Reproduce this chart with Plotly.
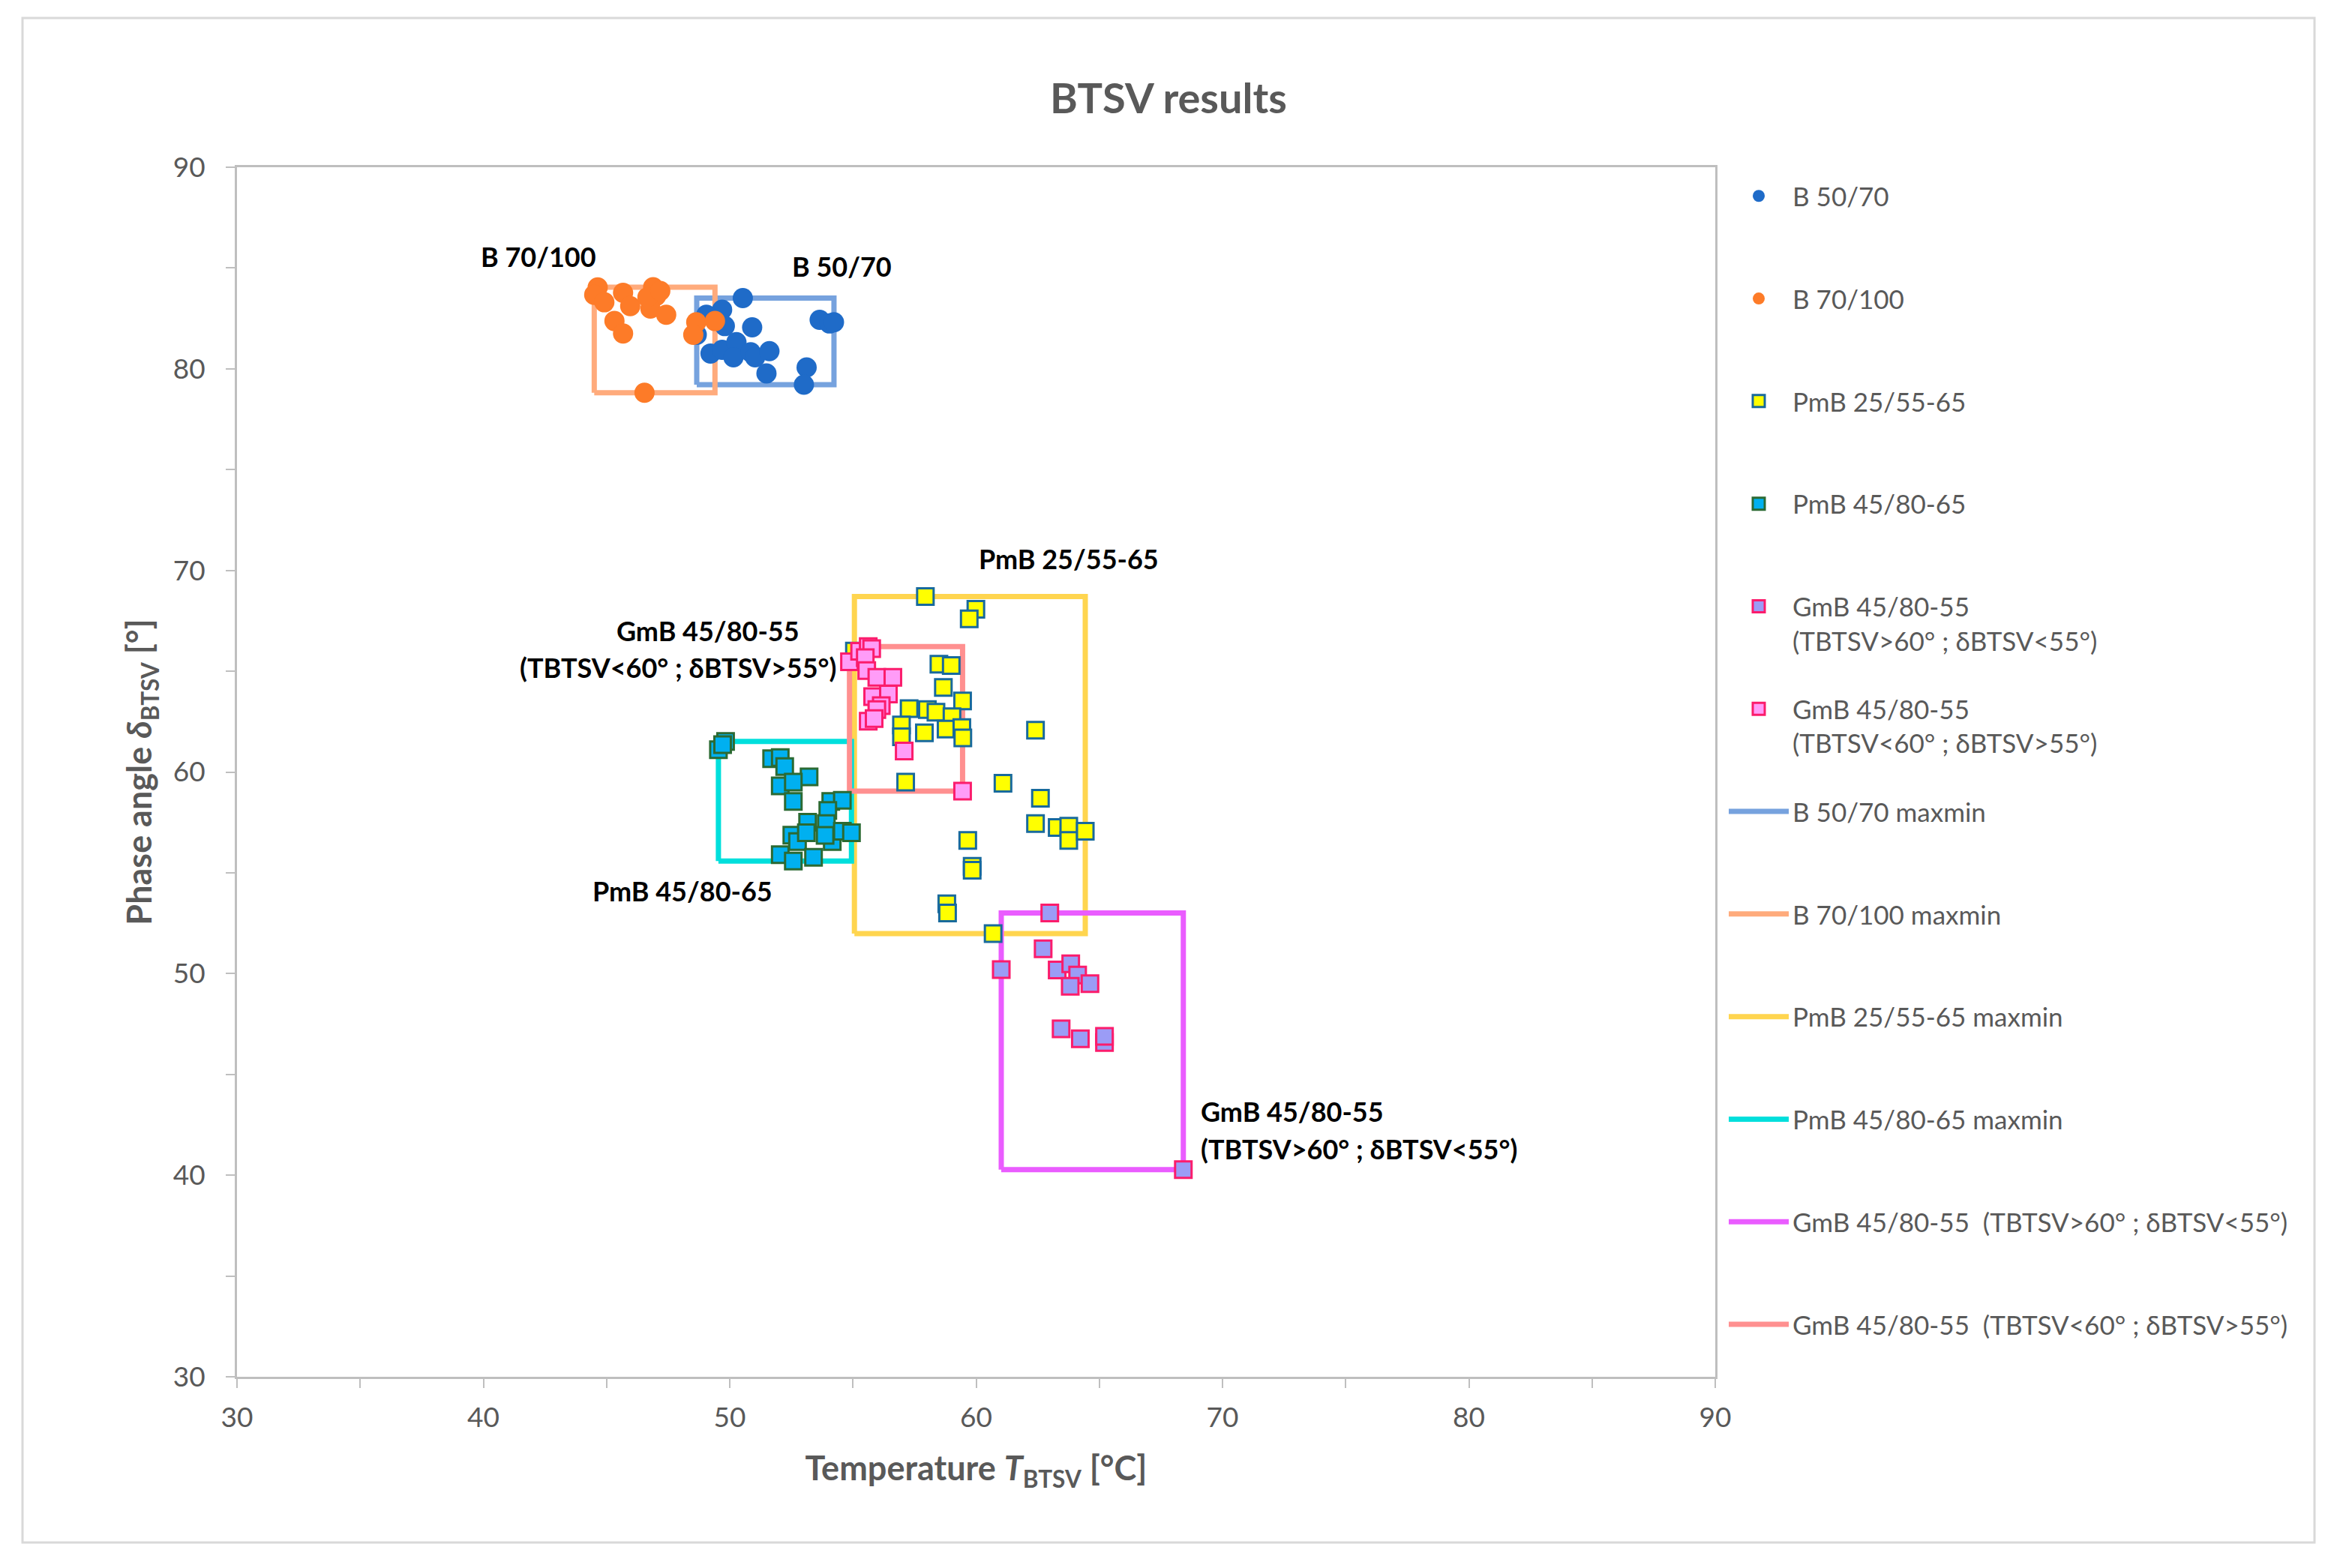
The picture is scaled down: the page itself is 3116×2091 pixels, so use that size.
import plotly.graph_objects as go

# ---- data (temperature T_BTSV [°C], phase angle delta [°]) ----
b5070_x = [50.53, 49.69, 49.05, 49.80, 50.91, 48.66, 53.65, 54.05, 54.23, 49.22,
           49.69, 50.27, 50.15, 50.85, 51.03, 51.61, 51.49, 53.12, 53.01]
b5070_y = [83.51, 82.93, 82.68, 82.12, 82.06, 81.69, 82.43, 82.25, 82.31, 80.76,
           80.94, 81.32, 80.57, 80.82, 80.57, 80.88, 79.77, 80.07, 79.21]

b70100_x = [44.64, 44.50, 44.91, 45.67, 45.96, 46.89, 47.01, 46.78, 47.42, 45.32,
            45.67, 48.64, 49.40, 48.52, 46.54, 46.66, 47.18]
b70100_y = [84.04, 83.67, 83.30, 83.77, 83.11, 84.05, 83.61, 82.99, 82.68, 82.37,
            81.75, 82.31, 82.37, 81.69, 78.81, 83.55, 83.86]

pmb2555_x = [57.94, 59.99, 59.72, 55.06, 58.49, 58.99, 58.67, 59.45, 57.28, 58.02,
             58.37, 59.02, 56.97, 57.90, 58.78, 59.42, 59.46, 56.97, 62.41, 57.14,
             61.09, 62.61, 62.41, 63.29, 63.76, 63.76, 64.43, 59.66, 59.84, 59.84,
             58.81, 58.84, 60.69]
pmb2555_y = [68.70, 68.07, 67.60, 66.00, 65.35, 65.28, 64.19, 63.52, 63.14, 63.10,
             62.97, 62.74, 62.33, 61.94, 62.13, 62.20, 61.69, 61.75, 62.07, 59.50,
             59.44, 58.70, 57.44, 57.25, 57.31, 56.61, 57.06, 56.61, 55.32, 55.13,
             53.46, 53.01, 51.98]

pmb4580_x = [49.54, 49.83, 49.71, 51.70, 52.05, 52.23, 53.22, 52.05, 52.58, 52.58,
             54.10, 54.57, 53.98, 53.92, 53.16, 52.52, 52.75, 53.11, 54.16, 54.57,
             54.94, 52.05, 52.58, 53.40, 53.87]
pmb4580_y = [61.11, 61.52, 61.36, 60.66, 60.72, 60.27, 59.76, 59.31, 59.50, 58.54,
             58.54, 58.60, 58.09, 57.44, 57.51, 56.87, 56.55, 56.99, 56.55, 57.06,
             56.99, 55.90, 55.58, 55.77, 56.86]

gmb_hi_x = [62.99, 62.72, 61.02, 63.29, 63.84, 64.12, 64.62, 63.82, 63.45, 64.23,
            65.21, 65.21, 68.41]
gmb_hi_y = [53.01, 51.23, 50.20, 50.18, 50.49, 49.93, 49.50, 49.37, 47.26, 46.77,
            46.58, 46.89, 40.28]

gmb_lo_x = [54.86, 55.27, 55.62, 55.76, 55.50, 55.56, 55.97, 56.62, 55.80, 56.44,
            56.15, 55.97, 55.62, 55.86, 57.08, 59.45]
gmb_lo_y = [65.47, 65.99, 66.22, 66.12, 65.67, 65.03, 64.70, 64.70, 63.74, 63.87,
            63.29, 63.10, 62.52, 62.65, 61.04, 59.05]

NB = "\u00a0"
series = [
    dict(name="B 50/70", x=b5070_x, y=b5070_y, symbol="circle", fill="#1f6bc8",
         edge="#1f6bc8", box="#76a2de", box_name="B 50/70 maxmin"),
    dict(name="B 70/100", x=b70100_x, y=b70100_y, symbol="circle", fill="#fd7b28",
         edge="#fd7b28", box="#ffab7c", box_name="B 70/100 maxmin"),
    dict(name="PmB 25/55-65", x=pmb2555_x, y=pmb2555_y, symbol="square", fill="#ffff00",
         edge="#186a9c", box="#ffd54f", box_name="PmB 25/55-65 maxmin"),
    dict(name="PmB 45/80-65", x=pmb4580_x, y=pmb4580_y, symbol="square", fill="#00b0f0",
         edge="#2b6a33", box="#00dfdc", box_name="PmB 45/80-65 maxmin"),
    dict(name="GmB 45/80-55<br>(TBTSV>60°" + NB + "; δBTSV<55°)", x=gmb_hi_x, y=gmb_hi_y,
         symbol="square", fill="#9b9cf6", edge="#fb1c6c", box="#ea5cff",
         box_name="GmB 45/80-55" + NB + NB + "(TBTSV>60°" + NB + "; δBTSV<55°)"),
    dict(name="GmB 45/80-55<br>(TBTSV<60°" + NB + "; δBTSV>55°)", x=gmb_lo_x, y=gmb_lo_y,
         symbol="square", fill="#ff9cf8", edge="#fb1c6c", box="#ff9090",
         box_name="GmB 45/80-55" + NB + NB + "(TBTSV<60°" + NB + "; δBTSV>55°)"),
]

# page is rendered with the browser's 8px body margin, so work in page pixels
# and shift everything back by that margin
PAGE_W, PAGE_H = 3116, 2091
OFF = 8
W, H = PAGE_W - 2 * OFF, PAGE_H - 2 * OFF
L, R, T, B = 316 - OFF, 2287 - OFF, 223 - OFF, 1836 - OFF


def paper_x(px):
    return (px - OFF - L) / (R - L)


def paper_y(py):
    return (B - (py - OFF)) / (B - T)


GRAY = "#595959"
AXIS = "#bfbfbf"
FONT = "Lato"

fig = go.Figure()
legend_ids = ["legend"] + [f"legend{i}" for i in range(2, 13)]
n = len(series)

# max/min boxes (drawn first, beneath the markers)
for i, s in enumerate(series):
    x0, x1 = min(s["x"]), max(s["x"])
    y0, y1 = min(s["y"]), max(s["y"])
    fig.add_trace(go.Scatter(
        x=[x0, x1, x1, x0, x0], y=[y0, y0, y1, y1, y0], mode="lines",
        name=s["box_name"], legend=legend_ids[n + i], showlegend=True,
        line=dict(color=s["box"], width=7),
    ))

for i, s in enumerate(series):
    is_sq = s["symbol"] == "square"
    fig.add_trace(go.Scatter(
        x=s["x"], y=s["y"], mode="markers", name=s["name"], legend=legend_ids[i],
        showlegend=True,
        marker=dict(symbol=s["symbol"], size=22 if is_sq else 27, color=s["fill"],
                    line=dict(color=s["edge"], width=3 if is_sq else 0)),
    ))

# one legend per entry so the entries sit on an even pitch as in the original
for i, lid in enumerate(legend_ids):
    centre = 258 + i * 136.8
    fig.update_layout({lid: dict(
        x=paper_x(2300), xanchor="left", y=paper_y(centre - 26), yanchor="top",
        font=dict(family=FONT, size=35, color=GRAY), bgcolor="rgba(0,0,0,0)",
        itemwidth=80, valign="top", borderwidth=0,
    )})

labels = [
    dict(text="B 70/100", x=42.24, y=85.57, xanchor="center"),
    dict(text="B 50/70", x=54.56, y=85.10, xanchor="center"),
    dict(text="PmB 25/55-65", x=63.75, y=70.58, xanchor="center"),
    dict(text="PmB 45/80-65", x=48.09, y=54.09, xanchor="center"),
    dict(text="GmB 45/80-55", x=49.12, y=67.03, xanchor="center"),
    dict(text="(TBTSV<60°" + NB + "; δBTSV>55°)", x=47.91, y=65.18, xanchor="center"),
    dict(text="GmB 45/80-55", x=69.07, y=43.16, xanchor="left"),
    dict(text="(TBTSV>60°" + NB + "; δBTSV<55°)", x=69.07, y=41.29, xanchor="left"),
]
for a in labels:
    fig.add_annotation(x=a["x"], y=a["y"], xref="x", yref="y", text="<b>" + a["text"] + "</b>",
                       showarrow=False, xanchor=a["xanchor"], yanchor="middle",
                       font=dict(family=FONT, size=36, color="#000000"))

tick = dict(ticklen=12, tickwidth=2, tickcolor=AXIS)
fig.update_layout(
    width=W, height=H, showlegend=True,
    margin=dict(l=L, r=W - R, t=T, b=H - B),
    paper_bgcolor="white", plot_bgcolor="white",
    title=dict(text="<b>BTSV results</b>", x=0.5, xref="container", xanchor="center",
               y=1 - (131 - OFF) / H, yanchor="middle",
               font=dict(family=FONT, size=56, color=GRAY)),
    xaxis=dict(range=[30, 90], tick0=30, dtick=10, ticks="outside", **tick,
               minor=dict(dtick=5, ticks="outside", **tick),
               showline=True, linecolor=AXIS, linewidth=3, mirror=True,
               showgrid=False, zeroline=False, ticklabelstandoff=8,
               tickfont=dict(family=FONT, size=37, color=GRAY),
               title=dict(text="<b>Temperature <i>T</i><sub>BTSV</sub> [°C]</b>", standoff=33,
                          font=dict(family=FONT, size=45, color=GRAY))),
    yaxis=dict(range=[30, 90], tick0=30, dtick=10, ticks="outside", **tick,
               minor=dict(dtick=5, ticks="outside", **tick),
               showline=True, linecolor=AXIS, linewidth=3, mirror=True,
               showgrid=False, zeroline=False, ticklabelstandoff=20,
               tickfont=dict(family=FONT, size=37, color=GRAY),
               title=dict(text="<b>Phase angle <i>δ</i><sub>BTSV</sub> [°]</b>", standoff=14,
                          font=dict(family=FONT, size=45, color=GRAY))),
    # inside half of the crossing tick marks
    xaxis2=dict(overlaying="x", anchor="y", side="bottom", range=[30, 90], tick0=30, dtick=5,
                ticks="inside", **tick, showticklabels=False, showline=False,
                showgrid=False, zeroline=False),
    yaxis2=dict(overlaying="y", anchor="x", side="left", range=[30, 90], tick0=30, dtick=5,
                ticks="inside", **tick, showticklabels=False, showline=False,
                showgrid=False, zeroline=False),
    shapes=[dict(type="rect", xref="paper", yref="paper",
                 x0=paper_x(30), x1=paper_x(3086), y0=paper_y(2057), y1=paper_y(24),
                 line=dict(color="#d9d9d9", width=3), fillcolor="rgba(0,0,0,0)", layer="below")],
)

fig.write_html("out.html")
